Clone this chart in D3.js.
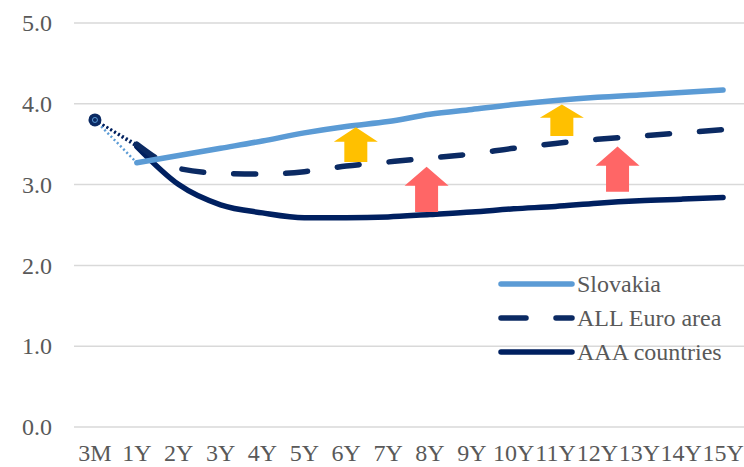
<!DOCTYPE html>
<html>
<head>
<meta charset="utf-8">
<script src="https://cdn.jsdelivr.net/npm/d3@7"></script>
<style>
  body { margin: 0; background: #fff; }
  text { font-family: "Liberation Serif", serif; fill: #595959; }
</style>
</head>
<body>
<div id="chart"></div>
<script>
var categories = ["3M", "1Y", "2Y", "3Y", "4Y", "5Y", "6Y", "7Y", "8Y", "9Y", "10Y", "11Y", "12Y", "13Y", "14Y", "15Y"];
var yTicks = [0, 1, 2, 3, 4, 5];

// 3M point is shared, then each curve from 1Y onward
var shortRate = 3.80;
var slovakia = [3.27, 3.36, 3.45, 3.54, 3.64, 3.72, 3.78, 3.87, 3.93, 3.99, 4.04, 4.08, 4.11, 4.14, 4.17];
var euroArea = [3.50, 3.20, 3.14, 3.13, 3.16, 3.23, 3.28, 3.33, 3.38, 3.45, 3.51, 3.56, 3.60, 3.64, 3.68];
var aaa      = [3.47, 3.00, 2.75, 2.65, 2.59, 2.59, 2.60, 2.63, 2.66, 2.70, 2.73, 2.77, 2.80, 2.82, 2.84];

// arrows: position in category steps, value range
var arrows = [
  {pos: 6.23, from: 3.28, to: 3.71, color: "#ffc000"},
  {pos: 11.15, from: 3.60, to: 3.99, color: "#ffc000"},
  {pos: 7.92, from: 2.66, to: 3.22, color: "#ff6666"},
  {pos: 12.48, from: 2.91, to: 3.47, color: "#ff6666"}
];

var width = 744, height = 467;
var margin = {top: 23, right: 0, bottom: 40, left: 74};

var svg = d3.select("#chart").append("svg")
    .attr("width", width)
    .attr("height", height);

var x = d3.scalePoint()
    .domain(categories)
    .range([margin.left, width - margin.right])
    .padding(0.5);

var y = d3.scaleLinear()
    .domain([0, 5])
    .range([height - margin.bottom, margin.top]);

function xAt(pos) {
  return x(categories[0]) + pos * x.step();
}

// gridlines
svg.append("g")
  .selectAll("line")
  .data(yTicks)
  .enter().append("line")
    .attr("x1", margin.left)
    .attr("x2", width)
    .attr("y1", function(d) { return y(d); })
    .attr("y2", function(d) { return y(d); })
    .attr("stroke", "#d9d9d9")
    .attr("stroke-width", 1.5);

// y labels
svg.append("g")
  .selectAll("text")
  .data(yTicks)
  .enter().append("text")
    .attr("x", 52)
    .attr("y", function(d) { return y(d); })
    .attr("dy", "0.34em")
    .attr("text-anchor", "end")
    .style("font-size", "24px")
    .text(function(d) { return d.toFixed(1); });

// x labels
svg.append("g")
  .selectAll("text")
  .data(categories)
  .enter().append("text")
    .attr("x", function(d) { return x(d); })
    .attr("y", 461)
    .attr("text-anchor", "middle")
    .style("font-size", "24px")
    .text(function(d) { return d; });

var series = [
  {name: "Slovakia", values: slovakia, color: "#5b9bd5", dash: null},
  {name: "ALL Euro area", values: euroArea, color: "#0b2a63", dash: "22,30"},
  {name: "AAA countries", values: aaa, color: "#002060", dash: null}
];

var line = d3.line()
    .x(function(d) { return x(d.cat); })
    .y(function(d) { return y(d.v); })
    .curve(d3.curveMonotoneX);

// dotted connectors from 3M to 1Y
series.forEach(function(s) {
  svg.append("line")
    .attr("x1", x("3M"))
    .attr("y1", y(shortRate))
    .attr("x2", x("1Y"))
    .attr("y2", y(s.values[0]))
    .attr("stroke", s.color)
    .attr("stroke-width", 2.5)
    .attr("stroke-dasharray", "2,2.5");
});

// main curves
series.slice().reverse().forEach(function(s) {
  var pts = s.values.map(function(v, i) { return {cat: categories[i + 1], v: v}; });
  svg.append("path")
    .datum(pts)
    .attr("d", line)
    .attr("fill", "none")
    .attr("stroke", s.color)
    .attr("stroke-width", 5.5)
    .attr("stroke-linecap", "round")
    .attr("stroke-linejoin", "round")
    .attr("stroke-dasharray", s.dash);
});

// 3M marker
svg.append("circle")
  .attr("cx", x("3M"))
  .attr("cy", y(shortRate))
  .attr("r", 6.5)
  .attr("fill", "#0b2a63");
svg.append("circle")
  .attr("cx", x("3M"))
  .attr("cy", y(shortRate))
  .attr("r", 2.5)
  .attr("fill", "none")
  .attr("stroke", "#5b9bd5")
  .attr("stroke-width", 1);

// arrows
var headW = 22, shaftW = 11.5;
svg.append("g")
  .selectAll("path")
  .data(arrows)
  .enter().append("path")
    .attr("fill", function(d) { return d.color; })
    .attr("d", function(d) {
      var cx = xAt(d.pos), top = y(d.to), bot = y(d.from);
      var headBase = top + (bot - top) * 0.42;
      return "M" + cx + "," + top +
        "L" + (cx + headW) + "," + headBase +
        "L" + (cx + shaftW) + "," + headBase +
        "L" + (cx + shaftW) + "," + bot +
        "L" + (cx - shaftW) + "," + bot +
        "L" + (cx - shaftW) + "," + headBase +
        "L" + (cx - headW) + "," + headBase + "Z";
    });

// legend
var legend = svg.append("g")
  .selectAll("g")
  .data(series)
  .enter().append("g")
    .attr("transform", function(d, i) { return "translate(500," + [284, 318, 352][i] + ")"; });

legend.append("line")
    .attr("x1", 1)
    .attr("x2", 72)
    .attr("stroke", function(d) { return d.color; })
    .attr("stroke-width", 5.5)
    .attr("stroke-linecap", "round")
    .attr("stroke-dasharray", function(d) { return d.dash ? "25,30" : null; });

legend.append("text")
    .attr("x", 77)
    .attr("dy", "0.34em")
    .style("font-size", "24px")
    .text(function(d) { return d.name; });
</script>
</body>
</html>
